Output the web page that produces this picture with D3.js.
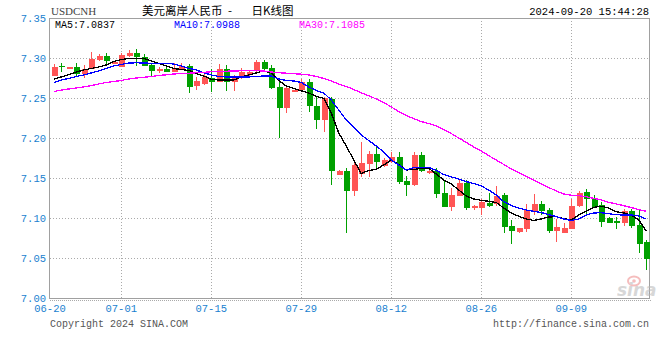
<!DOCTYPE html>
<html>
<head>
<meta charset="utf-8">
<script src="https://cdn.jsdelivr.net/npm/d3@7"></script>
<style>
    body { margin: 0; background: #fff; }
    svg { display: block; }
</style>
</head>
<body>
<svg id="chart"></svg>
<script>
// Trading days shown (Sina forex daily K-line, includes Saturdays)
const dates = [
    "06-20", "06-21", "06-22", "06-24", "06-25", "06-26", "06-27", "06-28", "06-29",
    "07-01", "07-02", "07-03", "07-04", "07-05", "07-06",
    "07-08", "07-09", "07-10", "07-11", "07-12", "07-13",
    "07-15", "07-16", "07-17", "07-18", "07-19", "07-20",
    "07-22", "07-23", "07-24", "07-25", "07-26", "07-27",
    "07-29", "07-30", "07-31", "08-01", "08-02", "08-03",
    "08-05", "08-06", "08-07", "08-08", "08-09", "08-10",
    "08-12", "08-13", "08-14", "08-15", "08-16", "08-17",
    "08-19", "08-20", "08-21", "08-22", "08-23", "08-24",
    "08-26", "08-27", "08-28", "08-29", "08-30", "08-31",
    "09-02", "09-03", "09-04", "09-05", "09-06", "09-07",
    "09-09", "09-10", "09-11", "09-12", "09-13", "09-14",
    "09-16", "09-17", "09-18", "09-19", "09-20"
];

const opens = [
    7.2775, 7.2904, 7.2863, 7.2884, 7.2796, 7.2863, 7.2975, 7.3025, 7.2938, 7.2891,
    7.3025, 7.3066, 7.3009, 7.2913, 7.2855, 7.2863, 7.2829, 7.2863, 7.2900, 7.2654,
    7.2675, 7.2746, 7.2704, 7.2863, 7.2704, 7.2759, 7.2788, 7.2850, 7.2946, 7.2871,
    7.2634, 7.2379, 7.2579, 7.2600, 7.2704, 7.2404, 7.2225, 7.2488, 7.1538, 7.1591,
    7.1341, 7.1550, 7.1675, 7.1800, 7.1650, 7.1696, 7.1759, 7.1463, 7.1413, 7.1788,
    7.1559, 7.1591, 7.1309, 7.1141, 7.1279, 7.1434, 7.1121, 7.1130, 7.1191, 7.1171,
    7.1288, 7.0900, 7.0821, 7.0859, 7.1079, 7.1175, 7.1100, 7.0841, 7.0809, 7.0863,
    7.1150, 7.1321, 7.1246, 7.1163, 7.1004, 7.0966, 7.0934, 7.1088, 7.0913, 7.0704
];
const highs = [
    7.2925, 7.2934, 7.2886, 7.2934, 7.2913, 7.3071, 7.3045, 7.3059, 7.2955, 7.3059,
    7.3100, 7.3109, 7.3045, 7.2925, 7.2891, 7.2891, 7.2934, 7.2934, 7.2921, 7.2766,
    7.2809, 7.2863, 7.2925, 7.2913, 7.2788, 7.2871, 7.2838, 7.2975, 7.2975, 7.2913,
    7.2716, 7.2650, 7.2604, 7.2734, 7.2734, 7.2516, 7.2516, 7.2516, 7.1600, 7.1621,
    7.1696, 7.1946, 7.1838, 7.1884, 7.1746, 7.1829, 7.1829, 7.1525, 7.1829, 7.1829,
    7.1604, 7.1621, 7.1466, 7.1371, 7.1475, 7.1475, 7.1163, 7.1234, 7.1309, 7.1400,
    7.1309, 7.0975, 7.0879, 7.1175, 7.1300, 7.1216, 7.1121, 7.0984, 7.0934, 7.1238,
    7.1341, 7.1359, 7.1288, 7.1196, 7.1013, 7.1016, 7.1109, 7.1109, 7.1109, 7.0725
];
const lows = [
    7.2770, 7.2829, 7.2861, 7.2766, 7.2754, 7.2859, 7.2965, 7.2913, 7.2925, 7.2884,
    7.3016, 7.2904, 7.2897, 7.2766, 7.2816, 7.2829, 7.2821, 7.2855, 7.2566, 7.2600,
    7.2665, 7.2579, 7.2700, 7.2591, 7.2591, 7.2734, 7.2779, 7.2829, 7.2850, 7.2609,
    7.2004, 7.2316, 7.2575, 7.2596, 7.2329, 7.2113, 7.2079, 7.1413, 7.1538, 7.0809,
    7.1275, 7.1516, 7.1516, 7.1600, 7.1638, 7.1690, 7.1425, 7.1275, 7.1400, 7.1575,
    7.1550, 7.1254, 7.1141, 7.1091, 7.1275, 7.1100, 7.1100, 7.1038, 7.1138, 7.1154,
    7.0816, 7.0675, 7.0813, 7.0829, 7.1038, 7.1038, 7.0816, 7.0704, 7.0809, 7.0863,
    7.1141, 7.1038, 7.1130, 7.0884, 7.0938, 7.0859, 7.0900, 7.0875, 7.0566, 7.0350
];
const closes = [
    7.2884, 7.2888, 7.2884, 7.2796, 7.2863, 7.2988, 7.3029, 7.2966, 7.2945, 7.3038,
    7.3066, 7.3009, 7.2904, 7.2841, 7.2862, 7.2829, 7.2875, 7.2900, 7.2641, 7.2716,
    7.2759, 7.2704, 7.2863, 7.2704, 7.2759, 7.2829, 7.2821, 7.2954, 7.2863, 7.2629,
    7.2379, 7.2629, 7.2600, 7.2704, 7.2404, 7.2225, 7.2496, 7.1591, 7.1591, 7.1341,
    7.1666, 7.1691, 7.1800, 7.1704, 7.1725, 7.1759, 7.1454, 7.1413, 7.1788, 7.1588,
    7.1591, 7.1300, 7.1141, 7.1288, 7.1441, 7.1130, 7.1150, 7.1196, 7.1150, 7.1275,
    7.0891, 7.0838, 7.0879, 7.1100, 7.1175, 7.1088, 7.0838, 7.0884, 7.0879, 7.1150,
    7.1309, 7.1238, 7.1141, 7.0954, 7.0941, 7.0934, 7.1088, 7.0904, 7.0675, 7.0488
];

// Moving averages as drawn on the chart
const ma5 = [
    7.2734, 7.2763, 7.2794, 7.2825, 7.2850, 7.2869, 7.2888, 7.2913, 7.2956, 7.2981,
    7.2994, 7.2996, 7.2994, 7.2963, 7.2931, 7.2900, 7.2869, 7.2856, 7.2844, 7.2806,
    7.2775, 7.2734, 7.2725, 7.2725, 7.2725, 7.2763, 7.2788, 7.2813, 7.2841, 7.2813,
    7.2719, 7.2650, 7.2621, 7.2590, 7.2563, 7.2519, 7.2496, 7.2313, 7.2063, 7.1900,
    7.1725, 7.1556, 7.1594, 7.1609, 7.1663, 7.1725, 7.1669, 7.1600, 7.1606, 7.1621,
    7.1621, 7.1550, 7.1475, 7.1425, 7.1350, 7.1275, 7.1238, 7.1221, 7.1209, 7.1194,
    7.1125, 7.1063, 7.1021, 7.0988, 7.0969, 7.0988, 7.1013, 7.1016, 7.0994, 7.0975,
    7.1038, 7.1088, 7.1134, 7.1146, 7.1125, 7.1079, 7.1063, 7.1038, 7.0975, 7.0837
];
const ma10 = [
    7.2694, 7.2725, 7.2744, 7.2769, 7.2788, 7.2813, 7.2838, 7.2869, 7.2900, 7.2919,
    7.2938, 7.2940, 7.2938, 7.2934, 7.2934, 7.2931, 7.2925, 7.2900, 7.2871, 7.2850,
    7.2816, 7.2788, 7.2769, 7.2763, 7.2763, 7.2763, 7.2763, 7.2769, 7.2775, 7.2775,
    7.2738, 7.2719, 7.2713, 7.2694, 7.2638, 7.2594, 7.2563, 7.2475, 7.2350, 7.2225,
    7.2138, 7.2038, 7.1969, 7.1900, 7.1825, 7.1725, 7.1663, 7.1600, 7.1631, 7.1634,
    7.1634, 7.1594, 7.1544, 7.1513, 7.1488, 7.1456, 7.1431, 7.1400, 7.1350, 7.1288,
    7.1204, 7.1156, 7.1125, 7.1100, 7.1084, 7.1069, 7.1041, 7.1019, 7.0988, 7.0969,
    7.0988, 7.1038, 7.1063, 7.1066, 7.1054, 7.1041, 7.1038, 7.1038, 7.1025, 7.0988
];
const ma30 = [
    7.2581, 7.2598, 7.2613, 7.2625, 7.2638, 7.2656, 7.2675, 7.2694, 7.2706, 7.2719,
    7.2738, 7.2750, 7.2759, 7.2769, 7.2781, 7.2790, 7.2800, 7.2806, 7.2810, 7.2815,
    7.2821, 7.2828, 7.2831, 7.2835, 7.2838, 7.2840, 7.2841, 7.2841, 7.2838, 7.2825,
    7.2816, 7.2810, 7.2804, 7.2798, 7.2788, 7.2769, 7.2744, 7.2713, 7.2675, 7.2644,
    7.2606, 7.2565, 7.2528, 7.2488, 7.2444, 7.2388, 7.2331, 7.2281, 7.2241, 7.2206,
    7.2181, 7.2150, 7.2106, 7.2056, 7.2000, 7.1944, 7.1888, 7.1838, 7.1779, 7.1725,
    7.1669, 7.1613, 7.1569, 7.1519, 7.1475, 7.1425, 7.1381, 7.1338, 7.1300, 7.1284,
    7.1279, 7.1266, 7.1246, 7.1225, 7.1196, 7.1175, 7.1154, 7.1131, 7.1104, 7.1085
];

const yTicks = [7.00, 7.05, 7.10, 7.15, 7.20, 7.25, 7.30, 7.35];
const xTickDates = ["06-20", "07-01", "07-15", "07-29", "08-12", "08-26", "09-09"];

const maSeries = [
    {name: "MA5", values: ma5, color: "#000000", labelX: 55},
    {name: "MA10", values: ma10, color: "#0000ff", labelX: 174},
    {name: "MA30", values: ma30, color: "#ff00ff", labelX: 299}
];

const width = 660;
const height = 360;
const plot = {left: 50, right: 650, top: 18, bottom: 298};
const monoFont = "'Liberation Mono', 'DejaVu Sans Mono', monospace";
const axisBlue = "#1a7fd0";
const upColor = "#ff5555";
const downColor = "#00a000";

const svg = d3.select("#chart")
    .attr("width", width)
    .attr("height", height);

const x = d3.scaleBand()
    .domain(dates)
    .range([plot.left, plot.right]);
const xc = d => x(d) + x.bandwidth() / 2;

const y = d3.scaleLinear()
    .domain([7.00, 7.35])
    .range([plot.bottom, plot.top]);

// Grid lines (dotted)
const grid = svg.append("g")
    .attr("stroke", "#aaaaaa")
    .attr("stroke-dasharray", "1,2")
    .attr("shape-rendering", "crispEdges");

grid.selectAll("line.h")
    .data(yTicks.filter(t => t > 7.00 && t < 7.35))
    .join("line")
    .attr("class", "h")
    .attr("x1", plot.left)
    .attr("x2", plot.right)
    .attr("y1", d => Math.round(y(d)) + 0.5)
    .attr("y2", d => Math.round(y(d)) + 0.5);

grid.selectAll("line.v")
    .data(xTickDates.slice(1))
    .join("line")
    .attr("class", "v")
    .attr("x1", d => Math.round(xc(d)) + 0.5)
    .attr("x2", d => Math.round(xc(d)) + 0.5)
    .attr("y1", plot.top)
    .attr("y2", plot.bottom);

// dotted line under the bottom axis
svg.append("line")
    .attr("x1", plot.left)
    .attr("x2", plot.right + 2)
    .attr("y1", plot.bottom + 2.5)
    .attr("y2", plot.bottom + 2.5)
    .attr("stroke", "#aaaaaa")
    .attr("stroke-dasharray", "1,1")
    .attr("shape-rendering", "crispEdges");

// Plot frame
svg.append("rect")
    .attr("x", plot.left - 0.5)
    .attr("y", plot.top + 0.5)
    .attr("width", plot.right - plot.left)
    .attr("height", plot.bottom - plot.top)
    .attr("fill", "none")
    .attr("stroke", "#a0a0a0")
    .attr("stroke-width", 1.5)
    .attr("shape-rendering", "crispEdges");

// Sina watermark
const mark = svg.append("g").attr("opacity", 0.55);
mark.append("ellipse")
    .attr("cx", 634).attr("cy", 281).attr("rx", 6).attr("ry", 4.5)
    .attr("fill", "none").attr("stroke", "#ee8888").attr("stroke-width", 2);
mark.append("circle")
    .attr("cx", 634).attr("cy", 281).attr("r", 1.8)
    .attr("fill", "#ee8888");
mark.append("text")
    .attr("x", 617).attr("y", 296)
    .attr("font-family", "'DejaVu Sans', sans-serif")
    .attr("font-size", 17)
    .attr("font-weight", "bold")
    .attr("font-style", "italic")
    .attr("fill", "#b8b8b8")
    .text("sina");

// Candles
const candles = svg.append("g").attr("shape-rendering", "crispEdges");
const candleData = dates.map((d, i) => ({
    date: d, open: opens[i], high: highs[i], low: lows[i], close: closes[i]
}));
const bodyWidth = 6;

candles.selectAll("line")
    .data(candleData)
    .join("line")
    .attr("x1", d => Math.round(xc(d.date)) + 0.5)
    .attr("x2", d => Math.round(xc(d.date)) + 0.5)
    .attr("y1", d => y(d.high))
    .attr("y2", d => y(d.low))
    .attr("stroke", d => d.close >= d.open ? upColor : downColor);

candles.selectAll("rect")
    .data(candleData)
    .join("rect")
    .attr("x", d => Math.round(xc(d.date)) + 0.5 - bodyWidth / 2)
    .attr("y", d => y(Math.max(d.open, d.close)))
    .attr("width", bodyWidth)
    .attr("height", d => Math.max(1.5, Math.abs(y(d.open) - y(d.close))))
    .attr("fill", d => d.close >= d.open ? upColor : downColor);

// Moving average lines (aliased, 1px like the original)
const line = d3.line()
    .x((v, i) => xc(dates[i]))
    .y(v => y(v));

svg.append("g")
    .attr("shape-rendering", "crispEdges")
    .selectAll("path")
    .data(maSeries)
    .join("path")
    .attr("d", d => line(d.values))
    .attr("fill", "none")
    .attr("stroke", d => d.color)
    .attr("stroke-width", 1.3);

// MA legend
svg.append("g")
    .selectAll("text")
    .data(maSeries)
    .join("text")
    .attr("x", d => d.labelX)
    .attr("y", 28)
    .attr("font-family", monoFont)
    .attr("font-size", 10)
    .attr("fill", d => d.color)
    .text(d => d.name + ":" + d.values[d.values.length - 1].toFixed(4));

// Y axis labels
svg.append("g")
    .selectAll("text")
    .data(yTicks)
    .join("text")
    .attr("x", 46)
    .attr("y", d => y(d) + 4)
    .attr("text-anchor", "end")
    .attr("font-family", monoFont)
    .attr("font-size", 10.5)
    .attr("fill", axisBlue)
    .text(d => d.toFixed(2));

// X axis labels
svg.append("g")
    .selectAll("text")
    .data(xTickDates)
    .join("text")
    .attr("x", (d, i) => i === 0 ? plot.left : xc(d))
    .attr("y", 312)
    .attr("text-anchor", "middle")
    .attr("font-family", monoFont)
    .attr("font-size", 10.5)
    .attr("fill", axisBlue)
    .text(d => d);

// Header
svg.append("text")
    .attr("x", 51)
    .attr("y", 15)
    .attr("font-family", "'Liberation Serif', 'DejaVu Serif', serif")
    .attr("font-size", 11)
    .attr("fill", "#444")
    .text("USDCNH");

const titleFont = "'Noto Sans CJK SC', sans-serif";
const titleParts = [
    {text: "美元离岸人民币", x: 142, anchor: "start"},
    {text: "-", x: 230, anchor: "middle"},
    {text: "日K线图", x: 251.5, anchor: "start"}
];
svg.append("g")
    .selectAll("text")
    .data(titleParts)
    .join("text")
    .attr("x", d => d.x)
    .attr("y", 15)
    .attr("text-anchor", d => d.anchor)
    .attr("font-family", titleFont)
    .attr("font-size", 11.5)
    .attr("fill", "#000")
    .text(d => d.text);

svg.append("text")
    .attr("x", 649)
    .attr("y", 15)
    .attr("text-anchor", "end")
    .attr("font-family", monoFont)
    .attr("font-size", 10.5)
    .attr("fill", "#000")
    .text("2024-09-20 15:44:28");

// Footer
svg.append("text")
    .attr("x", 50)
    .attr("y", 327)
    .attr("font-family", monoFont)
    .attr("font-size", 10)
    .attr("fill", "#555")
    .text("Copyright 2024 SINA.COM");

svg.append("text")
    .attr("x", 649)
    .attr("y", 327)
    .attr("text-anchor", "end")
    .attr("font-family", monoFont)
    .attr("font-size", 10)
    .attr("fill", "#555")
    .text("http://finance.sina.com.cn");
</script>
</body>
</html>
